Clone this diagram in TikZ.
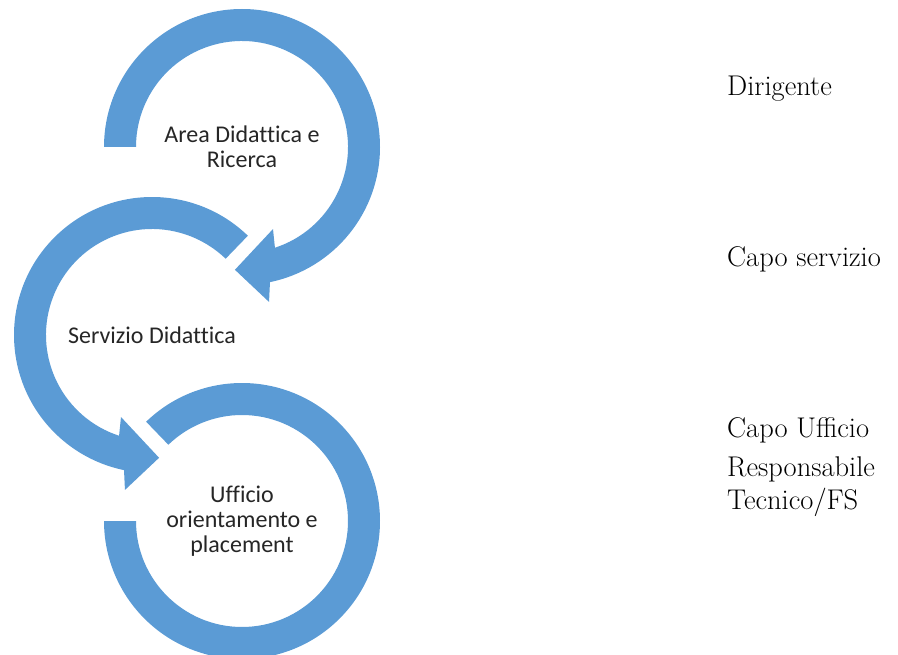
\documentclass[tikz,border=0pt]{standalone}
\usepackage{fontspec}
\newfontfamily\carlito[Ligatures=CommonOff]{Carlito}
\usepackage{tikz}
\usetikzlibrary{calc}

\begin{document}
\begin{tikzpicture}[
    x=1pt, y=1pt,
    ring/.style={
    	fill=my-blue,
    	draw=none
    }, lbl/.style={
    	font=\carlito\fontsize{24}{25}\selectfont,
    	text=black!85, align=center, inner sep=0pt
    }, role/.style={
    	font=\fontsize{28.5}{33}\selectfont,
    	anchor=base west, inner sep=0pt
    }]
    \definecolor{my-blue}{RGB}{91, 155, 213}
    
    \useasboundingbox (0,0) rectangle (898,-655);
    
    \coordinate (c1) at (242,-147);
    \coordinate (c2) at (152,-335);
    \coordinate (c3) at (242,-521);
    
    \begin{scope}[shift={(c1)}]
    	\fill[ring] (180:138) arc[start angle=180, end angle=-78.3, radius=138]
    		-- (-80.1:157.3) -- (-93.3:123) -- (-69.3:87.7) -- (-71.9:106)
    		arc[start angle=-71.9, end angle=180, radius=106] -- cycle;
    \end{scope}
    
    \begin{scope}[shift={(c2)}]
    	\fill[ring] (46:138) arc[start angle=46, end angle=258.3, radius=138]
    		-- (260.1:157.3) -- (273.3:123) -- (249.3:87.7) -- (251.9:106)
    		arc[start angle=251.9, end angle=46, radius=106] -- cycle;
    \end{scope}
    
    \begin{scope}[shift={(c3)}]
    	\fill[ring] (134:138) arc[start angle=134, end angle=-180, radius=138]
    		-- (-180:106) arc[start angle=-180, end angle=134, radius=106] -- cycle;
    \end{scope}
    
    \node[lbl] (area) at (c1) {Area Didattica e\\Ricerca};
    \node[lbl] (servizio) at (c2) {Servizio Didattica};
    \node[lbl] (ufficio) at (c3) {Ufficio\\orientamento e\\placement};
    
    \node[role] (dirigente) at (727,-96) {Dirigente};
    \node[role] (capo-servizio) at (727,-267) {Capo servizio};
    \node[role] (capo-ufficio) at (727,-437) {Capo Ufficio};
    \node[role] (responsabile) at (727,-476) {Responsabile};
    \node[role] (tecnico) at (727,-509) {Tecnico/FS};
    
\end{tikzpicture}
\end{document}
